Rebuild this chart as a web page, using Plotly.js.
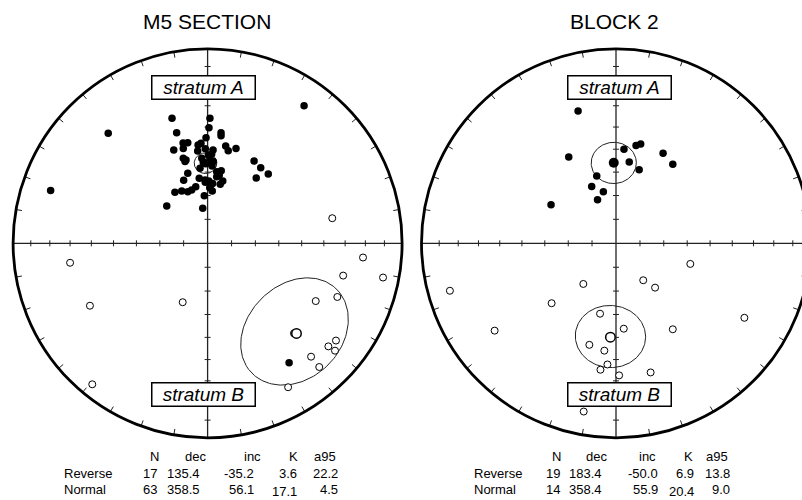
<!DOCTYPE html>
<html><head><meta charset="utf-8">
<script src="https://cdn.plot.ly/plotly-3.0.1.min.js"></script>
<style>html,body{margin:0;padding:0;background:#fff}</style>
</head><body><div id="chart" style="width:802px;height:500px"></div>
<script>
// ---------------- DATA ----------------
const panelTitles = ['M5 SECTION', 'BLOCK 2'];
const statHeaders = ['N', 'dec', 'inc', 'K', 'a95'];
const statRowNames = ['Reverse', 'Normal'];
// N, dec, inc, K, a95
const m5ReverseStats = [17, 135.4, -35.2, 3.6, 22.2];
const m5NormalStats  = [63, 358.5, 56.1, 17.1, 4.5];
const b2ReverseStats = [19, 183.4, -50.0, 6.9, 13.8];
const b2NormalStats  = [14, 358.4, 55.9, 20.4, 9.0];
const statText = {
  m5Reverse: ['17', '135.4', '-35.2', '3.6', '22.2'],
  m5Normal:  ['63', '358.5', '56.1', '17.1', '4.5'],
  b2Reverse: ['19', '183.4', '-50.0', '6.9', '13.8'],
  b2Normal:  ['14', '358.4', '55.9', '20.4', '9.0']
};
// Individual directions, equal-area projected (east, north), primitive radius = 1
const m5NormalE = [-0.183,0.012,0.007,-0.159,0.069,0.069,-0.008,-0.126,-0.102,-0.034,0.093,0.146,-0.174,-0.125,-0.012,0.028,0.106,-0.051,0.021,-0.125,-0.116,0.012,-0.022,0.009,-0.039,0.239,0.273,0.312,0.250,-0.102,0.047,0.070,0.060,-0.123,-0.043,0.006,0.026,-0.012,0.078,0.065,-0.061,0.011,-0.082,-0.102,-0.133,-0.168,0.024,-0.017,-0.210,-0.025,0.004,0.029,-0.013,0.016,0.047,-0.111,-0.030,0.023,-0.049,-0.807,-0.511,0.496,0.419];
const m5NormalN = [0.643,0.643,0.594,0.569,0.569,0.553,0.543,0.516,0.517,0.514,0.500,0.488,0.480,0.488,0.486,0.480,0.476,0.475,0.459,0.437,0.420,0.440,0.416,0.411,0.386,0.423,0.389,0.356,0.336,0.360,0.368,0.373,0.351,0.324,0.334,0.320,0.308,0.314,0.320,0.303,0.291,0.286,0.274,0.265,0.269,0.262,0.269,0.245,0.192,0.180,0.454,0.420,0.325,0.300,0.342,0.428,0.437,0.397,0.506,0.272,0.566,0.707,-0.614];
const m5ReverseE = [-0.707,-0.605,-0.128,-0.593,0.799,0.697,0.902,0.556,0.667,0.444,0.660,0.621,0.655,0.532,0.574,0.414,0.641];
const m5ReverseN = [-0.100,-0.321,-0.303,-0.725,-0.073,-0.166,-0.176,-0.297,-0.276,-0.463,-0.500,-0.530,-0.552,-0.583,-0.636,-0.740,0.129];
const b2NormalE = [-0.195,-0.243,0.041,0.103,0.127,0.068,0.242,0.292,0.119,-0.099,-0.125,-0.065,-0.095,-0.334];
const b2NormalN = [0.680,0.444,0.483,0.503,0.511,0.418,0.463,0.406,0.378,0.346,0.292,0.265,0.224,0.198];
const b2ReverseE = [-0.854,-0.624,-0.331,-0.168,0.140,0.201,0.382,0.660,-0.082,0.040,0.292,-0.137,-0.060,-0.044,-0.080,0.016,0.178,-0.166,-0.026];
const b2ReverseN = [-0.244,-0.449,-0.308,-0.209,-0.190,-0.228,-0.106,-0.383,-0.362,-0.439,-0.442,-0.522,-0.552,-0.623,-0.650,-0.679,-0.664,-0.865,-0.477];
const strataLabels = ['stratum A', 'stratum B'];

// ---------------- GEOMETRY HELPERS ----------------
const RAD = Math.PI / 180;
function project(dec, inc) {
  const r = Math.SQRT2 * Math.sin((90 - Math.abs(inc)) / 2 * RAD);
  return [r * Math.sin(dec * RAD), r * Math.cos(dec * RAD)];
}
function cone(dec, inc, a95) {
  const D = dec * RAD, I = inc * RAD, a = a95 * RAD;
  const m = [Math.cos(I) * Math.cos(D), Math.cos(I) * Math.sin(D), Math.sin(I)];
  const u = [-Math.sin(D), Math.cos(D), 0];
  const v = [m[1]*u[2]-m[2]*u[1], m[2]*u[0]-m[0]*u[2], m[0]*u[1]-m[1]*u[0]];
  const xs = [], ys = [];
  for (let k = 0; k <= 180; k++) {
    const t = 2 * Math.PI * k / 180;
    const p = [0,1,2].map(i => Math.cos(a)*m[i] + Math.sin(a)*(Math.cos(t)*u[i] + Math.sin(t)*v[i]));
    const d = Math.atan2(p[1], p[0]) / RAD;
    const inc2 = Math.asin(Math.max(-1, Math.min(1, p[2]))) / RAD;
    const q = project(d, inc2);
    xs.push(q[0]); ys.push(q[1]);
  }
  return [xs, ys];
}
const PX = 194.5;             // pixels per unit radius
function tickLines() {
  const xs = [], ys = [];
  const a = 3 / PX;           // half-length of axis ticks
  for (let k = 1; k <= 8; k++) {
    const r = Math.SQRT2 * Math.sin(5 * k * RAD);
    [r, -r].forEach(s => {
      xs.push(s, s, null); ys.push(-a, a, null);
      xs.push(-a, a, null); ys.push(s, s, null);
    });
  }
  const L = 6 / PX;
  for (let az = 0; az < 360; az += 10) {
    if (az % 90 === 0) continue;
    const sx = Math.sin(az * RAD), cy = Math.cos(az * RAD);
    xs.push(sx, sx * (1 - L), null); ys.push(cy, cy * (1 - L), null);
  }
  return [xs, ys];
}

// ---------------- TRACES ----------------
const traces = [];
const panels = [
  {xa: 'x', ya: 'y', nE: m5NormalE, nN: m5NormalN, rE: m5ReverseE, rN: m5ReverseN, ns: m5NormalStats, rs: m5ReverseStats, nMean: 8.5, rMean: 9.5},
  {xa: 'x2', ya: 'y2', nE: b2NormalE, nN: b2NormalN, rE: b2ReverseE, rN: b2ReverseN, ns: b2NormalStats, rs: b2ReverseStats, nMean: 10, rMean: 9.5}
];
const shapes = [];
panels.forEach(p => {
  const tl = tickLines();
  traces.push({x: tl[0], y: tl[1], xaxis: p.xa, yaxis: p.ya, mode: 'lines', line: {color: '#222', width: 1}, hoverinfo: 'skip', showlegend: false});
  const cn = cone(p.ns[1], p.ns[2], p.ns[4]);
  traces.push({x: cn[0], y: cn[1], xaxis: p.xa, yaxis: p.ya, mode: 'lines', line: {color: '#222', width: 1}, hoverinfo: 'skip', showlegend: false});
  const cr = cone(p.rs[1], p.rs[2], p.rs[4]);
  traces.push({x: cr[0], y: cr[1], xaxis: p.xa, yaxis: p.ya, mode: 'lines', line: {color: '#222', width: 1}, hoverinfo: 'skip', showlegend: false});
  traces.push({x: p.nE, y: p.nN, xaxis: p.xa, yaxis: p.ya, mode: 'markers', marker: {symbol: 'circle', size: 7.5, color: '#000', line: {width: 0}}, showlegend: false});
  traces.push({x: p.rE, y: p.rN, xaxis: p.xa, yaxis: p.ya, mode: 'markers', marker: {symbol: 'circle', size: 7, color: '#fff', line: {color: '#000', width: 1}}, showlegend: false});
  const mn = project(p.ns[1], p.ns[2]);
  traces.push({x: [mn[0]], y: [mn[1]], xaxis: p.xa, yaxis: p.ya, mode: 'markers', marker: {symbol: 'circle', size: p.nMean, color: '#000', line: {width: 0}}, showlegend: false});
  const mr = project(p.rs[1], p.rs[2]);
  traces.push({x: [mr[0]], y: [mr[1]], xaxis: p.xa, yaxis: p.ya, mode: 'markers', marker: {symbol: 'circle', size: p.rMean, color: '#fff', line: {color: '#000', width: 1.5}}, showlegend: false});
  shapes.push({type: 'line', xref: p.xa, yref: p.ya, x0: -1, x1: 1, y0: 0, y1: 0, line: {color: '#222', width: 1.2}, layer: 'below'});
  shapes.push({type: 'line', xref: p.xa, yref: p.ya, x0: 0, x1: 0, y0: -1, y1: 1, line: {color: '#222', width: 1.3}, layer: 'below'});
  shapes.push({type: 'circle', xref: p.xa, yref: p.ya, x0: -1, x1: 1, y0: -1, y1: 1, line: {color: '#000', width: 2.8}});
});

// ---------------- LAYOUT ----------------
const W = 802, H = 500;
const split = 412 / W;
const cyPx = 243.3;
const yr = [-(H - cyPx) / PX, cyPx / PX];
const axBase = {visible: false, fixedrange: true};
const FONT = 'Liberation Sans, Arial, Helvetica, sans-serif';
const annotations = [];
const centersPx = [207.6, 616];
panelTitles.forEach((t, i) => {
  annotations.push({text: t, xref: 'paper', yref: 'paper', x: (i === 0 ? 207 : 614) / W, y: 1 - 21 / H, xanchor: 'center', yanchor: 'middle', showarrow: false, font: {family: FONT, size: 21, color: '#000'}});
});
['x', 'x2'].forEach((xa, i) => {
  const ya = i === 0 ? 'y' : 'y2';
  const ys = [(cyPx - 87) / PX, (cyPx - 394) / PX];
  strataLabels.forEach((s, j) => {
    annotations.push({text: '<i>' + s + '</i>', xref: xa, yref: ya, x: (i === 0 ? -4 : 3.5) / PX, y: ys[j], xanchor: 'center', yanchor: 'middle', showarrow: false,
      font: {family: FONT, size: 19, color: '#000'}, bgcolor: '#fff', bordercolor: '#000', borderwidth: 1.5, borderpad: 1, width: 100, height: 20});
  });
});
// stats tables
const tbl = [
  {labelX: 62, headX: [154, 195, 252, 293, 325], valX: [159, 202, 256, 299, 340], rows: [statText.m5Reverse, statText.m5Normal]},
  {labelX: 472, headX: [556, 596, 647, 688, 717], valX: [562, 604, 660, 696, 732], rows: [statText.b2Reverse, statText.b2Normal]}
];
const rowY = [473, 489], headY = 456;
const TF = {family: FONT, size: 13, color: '#000'};
tbl.forEach(t => {
  statHeaders.forEach((h, k) => annotations.push({text: h, xref: 'paper', yref: 'paper', x: t.headX[k] / W, y: 1 - headY / H, xanchor: 'center', yanchor: 'middle', showarrow: false, font: TF}));
  statRowNames.forEach((rn, r) => {
    annotations.push({text: rn, xref: 'paper', yref: 'paper', x: t.labelX / W, y: 1 - rowY[r] / H, xanchor: 'left', yanchor: 'middle', showarrow: false, font: TF});
    t.rows[r].forEach((v, k) => {
      const dy = (r === 1 && k === 3) ? 2 : 0;
      annotations.push({text: v, xref: 'paper', yref: 'paper', x: t.valX[k] / W, y: 1 - (rowY[r] + dy) / H, xanchor: 'right', yanchor: 'middle', showarrow: false, font: TF});
    });
  });
});

const layout = {
  width: W, height: H, margin: {l: 0, r: 0, t: 0, b: 0, pad: 0},
  paper_bgcolor: '#fff', plot_bgcolor: 'rgba(0,0,0,0)', showlegend: false,
  xaxis: Object.assign({}, axBase, {domain: [0, split], range: [-centersPx[0] / PX, (412 - centersPx[0]) / PX]}),
  yaxis: Object.assign({}, axBase, {domain: [0, 1], range: yr}),
  xaxis2: Object.assign({}, axBase, {domain: [split, 1], range: [(412 - centersPx[1]) / PX, (W - centersPx[1]) / PX], anchor: 'y2'}),
  yaxis2: Object.assign({}, axBase, {domain: [0, 1], range: yr, anchor: 'x2'}),
  shapes: shapes, annotations: annotations, hovermode: false
};
Plotly.newPlot('chart', traces, layout, {displayModeBar: false, staticPlot: true});
</script></body></html>
